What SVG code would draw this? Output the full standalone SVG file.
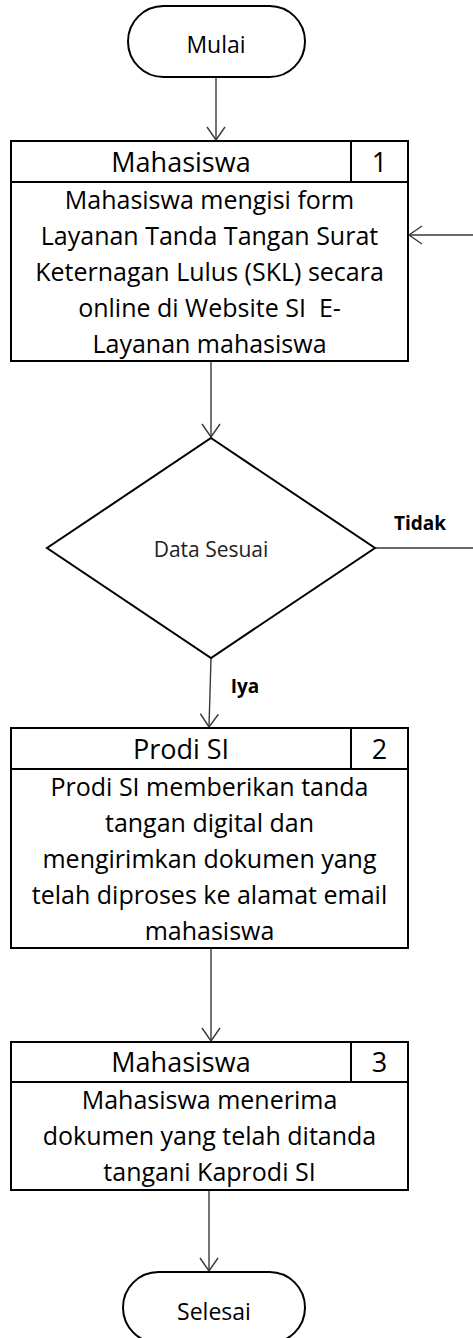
<svg xmlns="http://www.w3.org/2000/svg" width="473" height="1338" viewBox="0 0 473 1338">
<style>
.shape{fill:#fff;stroke:#000;stroke-width:2}
.sep{fill:none;stroke:#000;stroke-width:2}
.conn{fill:none;stroke:#3a3a3a;stroke-width:1.4}
text{font-family:"Open Sans","Liberation Sans",sans-serif;fill:#000;text-anchor:middle}
.hdr{font-size:27px}
.body{font-size:25px}
.term{font-size:23px}
.dec{font-size:21px;fill:#222}
.lbl{font-size:19px;font-weight:bold}
</style>
<defs>
<marker id="arr" markerUnits="userSpaceOnUse" markerWidth="30" markerHeight="30" refX="0" refY="0" viewBox="-15 -15 30 30" orient="auto" overflow="visible">
<path d="M-13,-9 L0,0 L-13,9" fill="none" stroke="#3a3a3a" stroke-width="1.4"/>
</marker>
</defs>
<g id="connectors">
<path class="conn" d="M216,77 L216,140" marker-end="url(#arr)"/>
<path class="conn" d="M211,362 L211,437" marker-end="url(#arr)"/>
<path class="conn" d="M375,548 L476,548 L476,235 L409,235" marker-end="url(#arr)"/>
<path class="conn" d="M211,658 L209,727" marker-end="url(#arr)"/>
<path class="conn" d="M211,949 L211,1041" marker-end="url(#arr)"/>
<path class="conn" d="M209,1186 L209,1271" marker-end="url(#arr)"/>
</g>
<g id="mulai">
<rect class="shape" x="128" y="6" width="177" height="71" rx="35.5"/>
<text class="term" x="216" y="53">Mulai</text>
</g>
<g id="step1">
<rect class="shape" x="11" y="141" width="397" height="220"/>
<path class="sep" d="M11,182 H408 M351,141 V182"/>
<text class="hdr" x="181" y="172">Mahasiswa</text>
<text class="hdr" x="379.5" y="172">1</text>
<text class="body" x="209.5" y="209">Mahasiswa mengisi form</text>
<text class="body" x="209.5" y="245">Layanan Tanda Tangan Surat</text>
<text class="body" x="209.5" y="281">Keternagan Lulus (SKL) secara</text>
<text class="body" x="209.5" y="317" xml:space="preserve">online di Website SI  E-</text>
<text class="body" x="209.5" y="353">Layanan mahasiswa</text>
</g>
<g id="decision">
<polygon class="shape" points="211,438 375,548 211,658 47,548"/>
<text class="dec" x="211" y="557">Data Sesuai</text>
</g>
<g id="label-tidak">
<text class="lbl" x="420" y="530">Tidak</text>
</g>
<g id="label-iya">
<text class="lbl" x="245" y="693">Iya</text>
</g>
<g id="step2">
<rect class="shape" x="11" y="728" width="397" height="220"/>
<path class="sep" d="M11,769 H408 M351,728 V769"/>
<text class="hdr" x="181" y="759">Prodi SI</text>
<text class="hdr" x="379.5" y="759">2</text>
<text class="body" x="209.5" y="796">Prodi SI memberikan tanda</text>
<text class="body" x="209.5" y="832">tangan digital dan</text>
<text class="body" x="209.5" y="868">mengirimkan dokumen yang</text>
<text class="body" x="209.5" y="904">telah diproses ke alamat email</text>
<text class="body" x="209.5" y="940">mahasiswa</text>
</g>
<g id="step3">
<rect class="shape" x="11" y="1042" width="397" height="148"/>
<path class="sep" d="M11,1082 H408 M351,1042 V1082"/>
<text class="hdr" x="181" y="1072">Mahasiswa</text>
<text class="hdr" x="379.5" y="1072">3</text>
<text class="body" x="209.5" y="1109">Mahasiswa menerima</text>
<text class="body" x="209.5" y="1145">dokumen yang telah ditanda</text>
<text class="body" x="209.5" y="1181">tangani Kaprodi SI</text>
</g>
<g id="selesai">
<rect class="shape" x="123" y="1272" width="182" height="71" rx="35.5"/>
<text class="term" x="214" y="1320">Selesai</text>
</g>
</svg>
